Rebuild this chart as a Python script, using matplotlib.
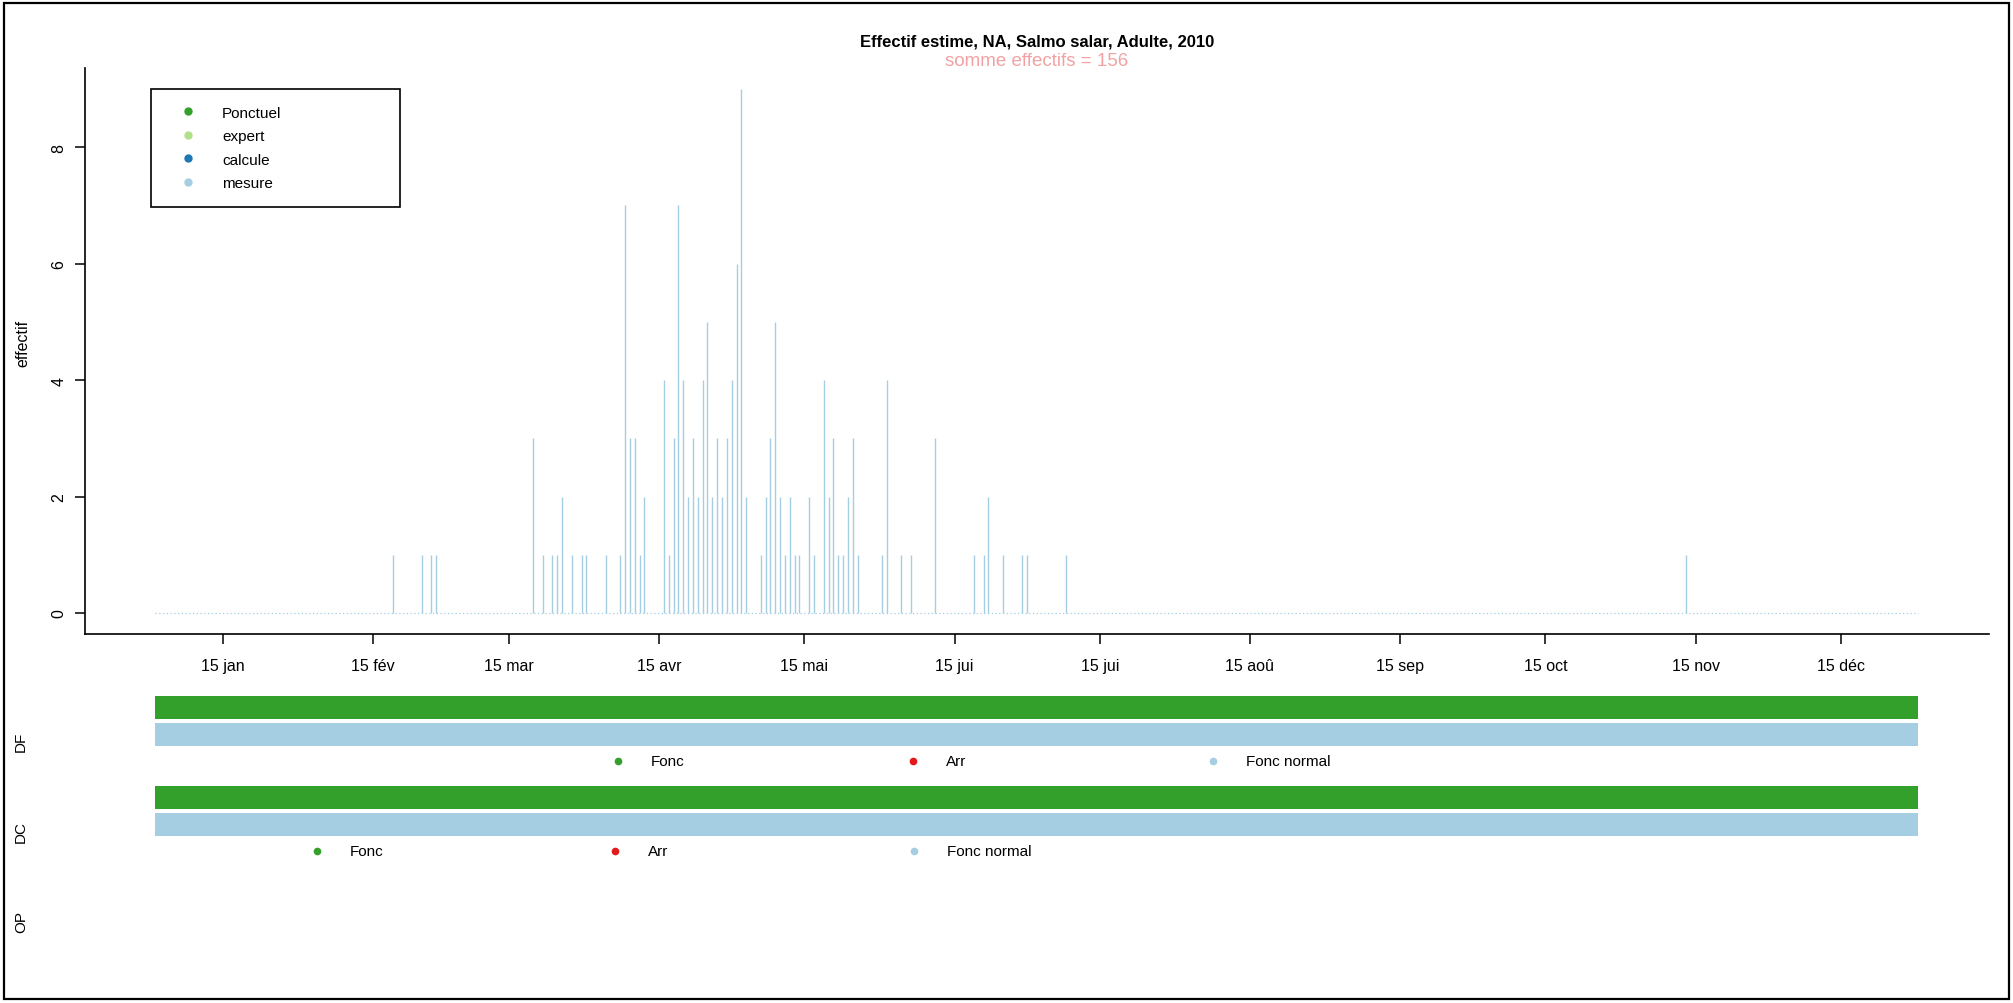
import numpy as np
import pandas as pd
import matplotlib
matplotlib.use('Agg')
import matplotlib.pyplot as plt
import matplotlib.dates as mdates
from matplotlib.patches import Rectangle
from matplotlib.lines import Line2D

plt.rcParams['font.family'] = ['Liberation Sans', 'DejaVu Sans']

# effectifs journaliers (jours non nuls), Salmo salar adulte, 2010
dates_obs = [
    '2010-02-19', '2010-02-25', '2010-02-27', '2010-02-28',
    '2010-03-20', '2010-03-22', '2010-03-24', '2010-03-25', '2010-03-26',
    '2010-03-28', '2010-03-30', '2010-03-31',
    '2010-04-04', '2010-04-07', '2010-04-08', '2010-04-09', '2010-04-10',
    '2010-04-11', '2010-04-12', '2010-04-16', '2010-04-17', '2010-04-18',
    '2010-04-19', '2010-04-20', '2010-04-21', '2010-04-22', '2010-04-23',
    '2010-04-24', '2010-04-25', '2010-04-26', '2010-04-27', '2010-04-28',
    '2010-04-29', '2010-04-30',
    '2010-05-01', '2010-05-02', '2010-05-03', '2010-05-06', '2010-05-07',
    '2010-05-08', '2010-05-09', '2010-05-10', '2010-05-11', '2010-05-12',
    '2010-05-13', '2010-05-14', '2010-05-16', '2010-05-17', '2010-05-19',
    '2010-05-20', '2010-05-21', '2010-05-22', '2010-05-23', '2010-05-24',
    '2010-05-25', '2010-05-26', '2010-05-31',
    '2010-06-01', '2010-06-04', '2010-06-06', '2010-06-11', '2010-06-19',
    '2010-06-21', '2010-06-22', '2010-06-25', '2010-06-29', '2010-06-30',
    '2010-07-08', '2010-11-13',
]
effectifs = [
    1, 1, 1, 1,
    3, 1, 1, 1, 2,
    1, 1, 1,
    1, 1, 7, 3, 3,
    1, 2, 4, 1, 3,
    7, 4, 2, 3, 2,
    4, 5, 2, 3, 2,
    3, 4,
    6, 9, 2, 1, 2,
    3, 5, 2, 1, 2,
    1, 1, 2, 1, 4,
    2, 3, 1, 1, 2,
    3, 1, 1,
    4, 1, 1, 3, 1,
    1, 2, 1, 1, 1,
    1, 1,
]

mois = ['jan', 'fév', 'mar', 'avr', 'mai', 'jui', 'jui', 'aoû', 'sep', 'oct', 'nov', 'déc']

legende_type = ['Ponctuel', 'expert', 'calcule', 'mesure']
couleurs_type = ['#33A02C', '#B2DF8A', '#1F78B4', '#A6CEE3']

# periodes de fonctionnement des dispositifs
df_debut = ['2010-01-01', '2010-01-01']
df_fin = ['2010-12-31', '2010-12-31']
df_etat = ['Fonc', 'Fonc normal']
dc_debut = ['2010-01-01', '2010-01-01']
dc_fin = ['2010-12-31', '2010-12-31']
dc_etat = ['Fonc', 'Fonc normal']

etats = ['Fonc', 'Arr', 'Fonc normal']
couleurs_etat = {'Fonc': '#33A02C', 'Arr': '#E31A1C', 'Fonc normal': '#A6CEE3'}

# serie journaliere complete
jours = pd.date_range('2010-01-01', '2010-12-31', freq='D')
serie = pd.Series(0, index=jours)
serie[pd.to_datetime(dates_obs)] = effectifs
total = int(serie.sum())

W, H = 2013, 1004
fig = plt.figure(figsize=(W / 100, H / 100), dpi=100)


def fx(px):
    return px / W


def fy(px):
    return 1 - px / H


x0, x1 = 84.7, 1989
etendue = (jours[-1] - jours[0]).days
xmin = mdates.date2num(jours[0]) - 0.04 * etendue
xmax = mdates.date2num(jours[-1]) + 0.04 * etendue

ax = fig.add_axes([fx(x0), fy(635), fx(x1 - x0), (635 - 69) / H])
ax.vlines(serie.index, 0, serie.values, color='#A6CEE3', lw=1.0)
ax.plot(serie.index, np.zeros(len(serie)), ls=(0, (1, 2)), color='#A6CEE3', lw=0.9)
ax.set_xlim(xmin, xmax)
ymax = serie.max()
ax.set_ylim(-0.04 * ymax, ymax * 1.04)

for s in ['top', 'right']:
    ax.spines[s].set_visible(False)
for s in ['left', 'bottom']:
    ax.spines[s].set_linewidth(1.2)

ticks = [pd.Timestamp(2010, m, 15) for m in range(1, 13)]
ax.set_xticks(ticks)
ax.set_xticklabels(['15 ' + m for m in mois], fontsize=11.5)
ax.set_yticks([0, 2, 4, 6, 8])
ax.set_yticklabels(['0', '2', '4', '6', '8'], fontsize=11.5, rotation=90, va='center')
ax.tick_params(direction='out', length=7, width=1.1)
ax.tick_params(axis='x', pad=10)
ax.tick_params(axis='y', pad=6)
fig.text(fx(23), fy(343), 'effectif', rotation=90, ha='center', va='center', fontsize=11.5)

fig.text(fx(1037), fy(42), 'Effectif estime, NA, Salmo salar, Adulte, 2010',
         ha='center', va='center', fontsize=12, fontweight='bold')
fig.text(fx(1037), fy(62), f'somme effectifs = {total}',
         ha='center', va='center', fontsize=13.5, color='#F2A2A2')

poignees = [Line2D([], [], ls='none', marker='o', ms=5, color=c) for c in couleurs_type]
leg = ax.legend(poignees, legende_type, loc='upper left',
                bbox_to_anchor=(fx(151), fy(90), fx(249), 0), bbox_transform=fig.transFigure,
                mode='expand', borderaxespad=0, fancybox=False, edgecolor='black',
                fontsize=11, labelspacing=0.62, borderpad=1.1, handlelength=2.7,
                handletextpad=0.85, framealpha=1)
leg.get_frame().set_linewidth(1.2)


def panneau(top, debut, fin, etat, leg_x):
    a = fig.add_axes([fx(x0), fy(top + 82), fx(x1 - x0), 82 / H])
    a.set_xlim(xmin, xmax)
    a.set_ylim(82, 0)
    a.axis('off')
    rangs = [(4, 23), (31, 23)]
    for (y, h), d, f, e in zip(rangs, debut, fin, etat):
        d0 = mdates.date2num(pd.Timestamp(d))
        d1 = mdates.date2num(pd.Timestamp(f))
        a.broken_barh([(d0, d1 - d0)], (y, h), facecolors=couleurs_etat[e])
    for xm, e in zip(leg_x, etats):
        a.plot(xm, 0.155, 'o', ms=4.5, color=couleurs_etat[e], transform=a.transAxes, clip_on=False)
        a.text(xm + 0.0173, 0.155, e, transform=a.transAxes, va='center', ha='left', fontsize=11)
    return a


panneau(693, df_debut, df_fin, df_etat, [0.280, 0.4352, 0.5923])
panneau(783, dc_debut, dc_fin, dc_etat, [0.122, 0.2785, 0.4357])

for lab, yp in [('DF', 742), ('DC', 832), ('OP', 922)]:
    fig.text(fx(21), fy(yp), lab, rotation=90, ha='center', va='center', fontsize=11)

fig.add_artist(Rectangle((fx(4), fy(1000)), fx(2009 - 4), (1000 - 4) / H,
                         transform=fig.transFigure, fill=False, lw=1.6, ec='black'))

fig.savefig('out.png', dpi=100)
